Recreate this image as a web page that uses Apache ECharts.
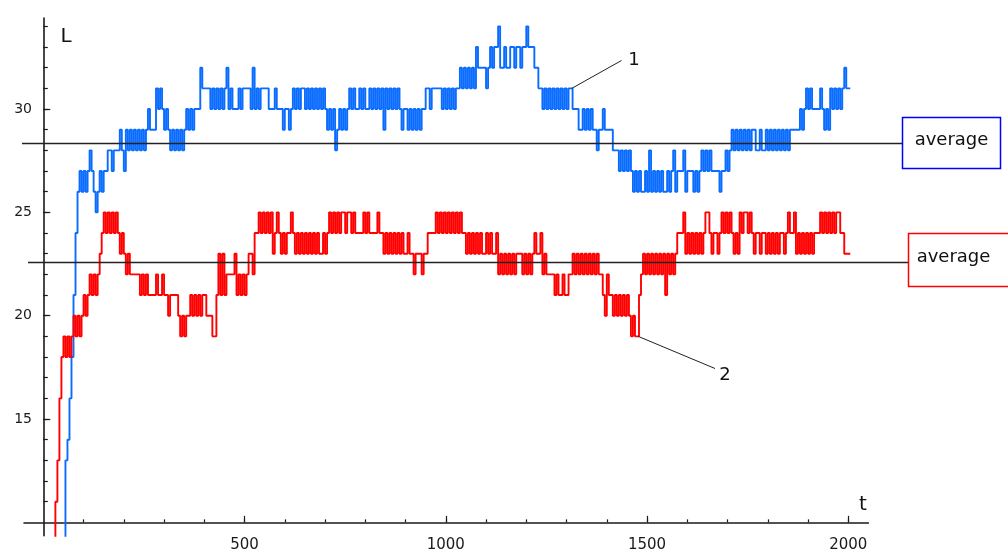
<!DOCTYPE html>
<html>
<head>
<meta charset="utf-8">
<script src="https://cdn.jsdelivr.net/npm/echarts@6/dist/echarts.min.js"></script>
<style>
  html, body { margin: 0; padding: 0; background: #ffffff; }
  #chart { width: 1008px; height: 554px; }
</style>
</head>
<body>
<div id="chart"></div>
<script>
// Sampling step of the time axis t
const STEP = 5;

// Trajectory 1 (blue): L sampled every STEP units of t, starting at t = 0
const lengthBlue = [
  null, null, null, null, null, null, null, null, null, null, 9,
  13, 14, 16, 18, 21, 24, 26, 27, 26, 27,
  26, 27, 28, 27, 26, 25, 26, 27, 26, 27,
  27, 28, 28, 27, 28, 28, 28, 29, 28, 27,
  29, 28, 29, 28, 29, 28, 29, 28, 29, 28,
  29, 30, 29, 29, 29, 31, 30, 31, 30, 29,
  30, 29, 28, 29, 28, 29, 28, 29, 28, 29,
  30, 29, 30, 29, 30, 30, 30, 32, 31, 31,
  31, 31, 30, 31, 30, 31, 30, 31, 30, 31,
  32, 30, 31, 30, 30, 30, 31, 30, 31, 31,
  31, 31, 30, 32, 30, 31, 30, 31, 31, 31,
  31, 30, 30, 30, 31, 30, 30, 30, 29, 30,
  30, 29, 30, 31, 30, 31, 30, 31, 31, 30,
  31, 30, 31, 30, 31, 30, 31, 30, 31, 30,
  29, 30, 29, 30, 28, 29, 30, 29, 30, 29,
  30, 31, 30, 31, 30, 30, 31, 30, 31, 30,
  30, 31, 30, 31, 30, 31, 30, 31, 29, 31,
  30, 31, 30, 31, 30, 31, 30, 29, 30, 30,
  29, 30, 29, 30, 29, 30, 29, 30, 30, 31,
  31, 30, 31, 31, 31, 31, 31, 30, 31, 30,
  31, 30, 31, 30, 31, 31, 32, 31, 32, 31,
  32, 31, 32, 31, 33, 32, 32, 32, 32, 31,
  32, 33, 32, 33, 33, 34, 32, 32, 33, 32,
  32, 33, 33, 32, 33, 33, 32, 33, 33, 34,
  33, 33, 33, 32, 32, 31, 31, 30, 31, 30,
  31, 30, 31, 30, 31, 30, 31, 30, 31, 30,
  31, 31, 30, 30, 30, 29, 29, 30, 29, 30,
  29, 30, 29, 29, 28, 29, 29, 30, 29, 29,
  29, 29, 28, 28, 28, 27, 28, 27, 28, 27,
  28, 27, 26, 27, 26, 27, 26, 26, 27, 26,
  28, 26, 27, 26, 27, 26, 27, 26, 26, 27,
  26, 27, 28, 26, 27, 27, 27, 28, 26, 27,
  27, 27, 26, 27, 26, 27, 28, 27, 28, 27,
  28, 27, 27, 27, 27, 26, 27, 27, 28, 27,
  28, 29, 28, 29, 28, 29, 28, 29, 28, 29,
  28, 29, 29, 28, 28, 29, 28, 28, 29, 28,
  29, 28, 29, 28, 29, 28, 29, 28, 29, 28,
  29, 29, 29, 29, 29, 30, 29, 30, 31, 30,
  31, 30, 30, 30, 30, 31, 30, 29, 30, 29,
  31, 30, 31, 30, 31, 30, 31, 32, 31, 31,
  31
];

// Trajectory 2 (red): L sampled every STEP units of t, starting at t = 0
const lengthRed = [
  null, null, null, null, null, 9, 11, 13, 16, 18, 19,
  18, 19, 18, 19, 20, 19, 20, 19, 20, 21,
  20, 21, 22, 21, 22, 21, 22, 23, 24, 25,
  24, 25, 24, 25, 24, 25, 24, 23, 24, 23,
  22, 23, 22, 22, 22, 22, 22, 21, 22, 21,
  22, 21, 21, 21, 21, 22, 21, 21, 22, 21,
  21, 20, 21, 21, 21, 21, 20, 19, 20, 19,
  20, 20, 21, 20, 21, 20, 21, 20, 21, 21,
  20, 20, 20, 19, 19, 21, 23, 21, 23, 21,
  22, 22, 22, 22, 23, 21, 22, 21, 22, 21,
  22, 23, 23, 22, 24, 24, 25, 24, 25, 24,
  25, 24, 25, 23, 24, 25, 24, 23, 24, 23,
  24, 24, 25, 24, 23, 24, 23, 24, 23, 24,
  23, 24, 23, 24, 23, 24, 23, 23, 24, 23,
  24, 25, 24, 25, 24, 25, 24, 25, 25, 24,
  25, 25, 24, 25, 24, 24, 24, 24, 25, 24,
  25, 24, 24, 24, 24, 25, 24, 24, 23, 24,
  23, 24, 23, 24, 23, 24, 23, 24, 23, 23,
  24, 23, 23, 22, 23, 23, 23, 22, 23, 23,
  24, 24, 24, 24, 25, 24, 25, 24, 25, 24,
  25, 24, 25, 24, 25, 24, 25, 24, 24, 23,
  24, 23, 24, 23, 24, 23, 24, 23, 23, 24,
  23, 24, 23, 23, 24, 22, 23, 22, 23, 22,
  23, 22, 23, 22, 23, 23, 23, 22, 23, 22,
  23, 22, 23, 24, 23, 23, 24, 22, 23, 22,
  22, 22, 22, 21, 22, 21, 21, 22, 21, 21,
  22, 22, 23, 22, 23, 22, 23, 22, 23, 22,
  23, 22, 23, 22, 23, 22, 22, 21, 20, 22,
  21, 21, 20, 21, 20, 21, 20, 21, 20, 21,
  20, 19, 20, 19, 19, 21, 22, 23, 22, 23,
  22, 23, 22, 23, 22, 23, 22, 23, 21, 23,
  22, 23, 22, 23, 24, 24, 24, 25, 23, 24,
  23, 24, 23, 24, 23, 24, 23, 24, 25, 25,
  24, 23, 24, 24, 23, 24, 25, 24, 25, 24,
  25, 24, 23, 24, 23, 25, 24, 25, 25, 24,
  25, 24, 23, 24, 24, 23, 24, 24, 23, 24,
  23, 24, 23, 24, 23, 24, 24, 23, 24, 25,
  24, 24, 25, 23, 24, 23, 24, 23, 24, 23,
  24, 23, 24, 24, 24, 25, 24, 25, 24, 25,
  24, 25, 24, 25, 25, 24, 24, 23, 23, 23,
  23
];

// Time-average of each trajectory
const averageBlue = 28.37;
const averageRed = 22.61;

// Axis ticks and labels
const tickLabelsT = [500, 1000, 1500, 2000];
const minorTicksT = [100, 200, 300, 400, 500, 600, 700, 800, 900, 1000,
                     1100, 1200, 1300, 1400, 1500, 1600, 1700, 1800, 1900, 2000];
const tickLabelsL = [15, 20, 25, 30];
const minorTicksL = [11, 12, 13, 14, 15, 16, 17, 18, 19, 20, 21, 22,
                     23, 24, 25, 26, 27, 28, 29, 30, 31, 32, 33, 34];

// Points on each trajectory that the labels "1" and "2" point at
const pointer1 = [1313, 31];
const pointer2 = [1478, 19];

const FONT = 'DejaVu Sans';
const INK = '#1a1a1a';
const BLUE = '#0a6cff';
const RED = '#ff0000';

const toPairs = (values) => values.map((v, i) => [i * STEP, v]);
const plain = (v) => String(v);

const chart = echarts.init(document.getElementById('chart'), null, { renderer: 'canvas' });

const tickStyle = { color: INK, width: 1.2 };

chart.setOption({
  animation: false,
  backgroundColor: '#ffffff',
  grid: { left: 24, top: 18.1, width: 844.4, height: 517.7, containLabel: false, outerBoundsMode: 'none' },
  xAxis: [
    {
      type: 'value', min: -48, max: 2050, position: 'bottom',
      axisLine: { show: true, onZero: true, onZeroAxisIndex: 1, lineStyle: { color: INK, width: 1.6 } },
      axisTick: { show: true, inside: true, length: 3, customValues: minorTicksT, lineStyle: tickStyle },
      axisLabel: { show: true, customValues: tickLabelsT, formatter: plain, margin: 1.5, color: INK, fontFamily: FONT, fontSize: 15 },
      splitLine: { show: false }
    },
    {
      type: 'value', min: -48, max: 2050, position: 'bottom',
      axisLine: { show: false, onZero: true, onZeroAxisIndex: 1 },
      axisTick: { show: true, inside: true, length: 6.5, customValues: tickLabelsT, lineStyle: tickStyle },
      axisLabel: { show: false },
      splitLine: { show: false }
    }
  ],
  yAxis: [
    {
      type: 'value', min: 9.35, max: 34.4, position: 'left',
      axisLine: { show: true, onZero: true, onZeroAxisIndex: 0, lineStyle: { color: INK, width: 1.6 } },
      axisTick: { show: true, inside: true, length: 4.5, customValues: minorTicksL, lineStyle: tickStyle },
      axisLabel: { show: true, customValues: tickLabelsL, formatter: plain, margin: -8, color: INK, fontFamily: FONT, fontSize: 14 },
      splitLine: { show: false }
    },
    {
      // same scale shifted by 10: carries the t axis at L = 10 and the long ticks
      type: 'value', min: -0.65, max: 24.4, position: 'left',
      axisLine: { show: false, onZero: true, onZeroAxisIndex: 0 },
      axisTick: { show: true, inside: true, length: 7, customValues: tickLabelsL.map(v => v - 10), lineStyle: tickStyle },
      axisLabel: { show: false },
      splitLine: { show: false }
    }
  ],
  series: [
    {
      name: '1', type: 'line', xAxisIndex: 0, yAxisIndex: 0, step: 'end',
      symbol: 'none', clip: true, z: 3,
      lineStyle: { color: BLUE, width: 1.9 },
      data: toPairs(lengthBlue)
    },
    {
      name: '2', type: 'line', xAxisIndex: 0, yAxisIndex: 0, step: 'end',
      symbol: 'none', clip: true, z: 3,
      lineStyle: { color: RED, width: 1.9 },
      data: toPairs(lengthRed)
    }
  ]
});

// Annotations placed from data coordinates
const px = (t, v) => chart.convertToPixel({ xAxisIndex: 0, yAxisIndex: 0 }, [t, v]);
const yAvgBlue = Math.round(px(0, averageBlue)[1]) + 0.5;
const yAvgRed = Math.round(px(0, averageRed)[1]) + 0.5;
const p1 = px(pointer1[0], pointer1[1]);
const p2 = px(pointer2[0], pointer2[1]);

const txt = (text, x, y, size, align) => ({
  type: 'text', z: 10,
  style: { text, x, y, fill: '#111111', font: size + 'px "' + FONT + '"', align: align || 'center', verticalAlign: 'middle' }
});

chart.setOption({
  graphic: [
    { type: 'line', z: 5, shape: { x1: 22, y1: yAvgBlue, x2: 902.5, y2: yAvgBlue }, style: { stroke: '#222222', lineWidth: 1.5 } },
    { type: 'line', z: 5, shape: { x1: 28, y1: yAvgRed, x2: 908.5, y2: yAvgRed }, style: { stroke: '#222222', lineWidth: 1.5 } },
    { type: 'rect', z: 6, shape: { x: 902.5, y: 117.5, width: 98, height: 51 }, style: { fill: '#ffffff', stroke: '#0000ff', lineWidth: 1.5 } },
    { type: 'rect', z: 6, shape: { x: 908.5, y: 233.5, width: 110, height: 53 }, style: { fill: '#ffffff', stroke: '#ff0000', lineWidth: 1.5 } },
    txt('average', 951.5, 140, 18),
    txt('average', 953.5, 257, 18),
    { type: 'line', z: 5, shape: { x1: p1[0], y1: p1[1], x2: 621.5, y2: 60.5 }, style: { stroke: '#222222', lineWidth: 1 } },
    { type: 'line', z: 5, shape: { x1: p2[0], y1: p2[1], x2: 715, y2: 368.5 }, style: { stroke: '#222222', lineWidth: 1 } },
    txt('1', 634, 60, 18),
    txt('2', 725, 375, 18),
    txt('L', 66, 37, 20),
    txt('t', 863, 505, 20)
  ]
});
</script>
</body>
</html>
